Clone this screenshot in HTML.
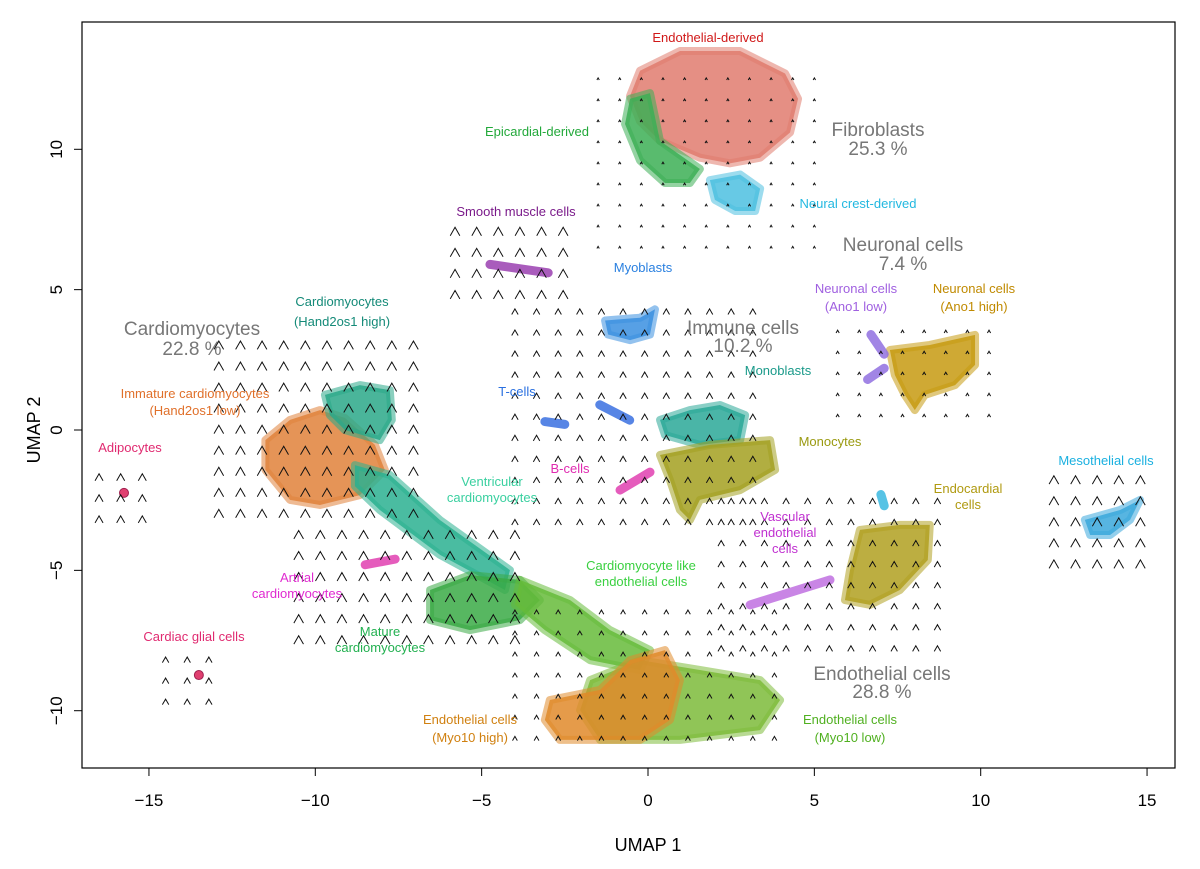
<!DOCTYPE html>
<html><head><meta charset="utf-8"><style>
html,body{margin:0;padding:0;background:#fff;}
svg{display:block;font-family:"Liberation Sans","DejaVu Sans",sans-serif;}
</style></head><body>
<svg id="chart" width="1200" height="869" viewBox="0 0 1200 869" xmlns="http://www.w3.org/2000/svg">
<rect x="82" y="22" width="1093" height="746" fill="none" stroke="#000" stroke-width="1.2"/>
<g id="clusters"></g>
<g id="arrows"></g>
<g id="axes"></g>
<g id="labels"></g>
</svg>
<script>
const xTicks=[-15,-10,-5,0,5,10,15];
const yTicks=[-10,-5,0,5,10];
const clusterNames=["fibroblasts-endothelial-derived","epicardial-derived","neural-crest-derived","myoblasts","monoblasts","monocytes","neuronal-ano1-high","endocardial","mesothelial","immature-cardiomyocytes","cardiomyocytes-hand2os1-high","ventricular-cardiomyocytes","mature-cardiomyocytes","cardiomyocyte-like-endothelial","endothelial-myo10-low","endothelial-myo10-high"];
const clusterColors=["#e07b6e","#3caf55","#4cbfe0","#3a8fe0","#2aa898","#a3a020","#c79a10","#b0a020","#3aa8dc","#e0813a","#2aa888","#2ab090","#3aaa45","#66bb3a","#7dbb3a","#e08a2a"];
const clusterShapes=[
[[-0.24,12.8],[0.96,13.5],[2.77,13.5],[4.12,12.7],[4.51,11.8],[4.27,10.6],[3.37,9.7],[2.46,9.5],[1.56,9.7],[0.36,10.3],[-0.24,11.0],[-0.54,11.9]],
[[-0.54,11.8],[0.06,12.0],[0.36,10.3],[1.56,9.3],[1.26,8.8],[0.51,8.8],[-0.24,9.6],[-0.69,10.9]],
[[1.86,8.9],[2.77,9.1],[3.37,8.6],[3.22,7.8],[2.62,7.8],[2.01,8.2]],
[[-1.29,3.9],[-0.24,4.0],[0.21,4.3],[0.06,3.4],[-0.54,3.2],[-1.2,3.4]],
[[0.36,0.36],[1.26,0.71],[2.16,0.89],[2.92,0.53],[2.77,-0.36],[1.56,-0.53],[0.51,-0.18]],
[[0.36,-0.89],[1.86,-0.53],[3.67,-0.36],[3.82,-1.42],[2.77,-2.14],[1.56,-2.49],[1.26,-3.21],[0.96,-2.85],[0.66,-1.78]],
[[7.27,2.85],[8.47,3.03],[9.83,3.39],[9.83,2.32],[9.23,1.6],[8.32,1.25],[8.02,0.71],[7.72,1.25],[7.42,1.96]],
[[6.37,-3.56],[7.57,-3.38],[8.47,-3.38],[8.41,-4.63],[7.57,-5.7],[6.67,-6.23],[5.92,-6.06],[6.07,-5.0]],
[[13.13,-3.2],[14.19,-2.85],[14.79,-2.49],[14.49,-3.2],[13.89,-3.74],[13.29,-3.74]],
[[-11.5,-0.36],[-10.76,0.36],[-9.86,0.71],[-9.11,0.43],[-8.21,-0.53],[-7.91,-1.42],[-8.66,-2.32],[-9.86,-2.67],[-10.76,-2.49],[-11.5,-1.42]],
[[-9.71,1.25],[-8.66,1.6],[-7.76,1.42],[-7.7,0.36],[-8.06,-0.36],[-9.11,0.0],[-9.56,0.53]],
[[-8.81,-1.25],[-7.76,-1.6],[-6.25,-3.21],[-4.15,-4.99],[-4.3,-5.7],[-6.25,-4.45],[-8.06,-2.85],[-8.81,-2.0]],
[[-6.55,-5.7],[-5.35,-5.17],[-3.85,-5.34],[-3.25,-6.06],[-3.85,-6.77],[-5.35,-7.13],[-6.55,-6.77]],
[[-3.85,-5.34],[-2.34,-6.06],[-1.14,-7.13],[0.06,-7.84],[-0.24,-8.55],[-1.74,-8.2],[-3.1,-7.13],[-4.0,-6.23]],
[[-1.74,-8.91],[-0.24,-8.2],[1.56,-8.55],[3.37,-8.91],[3.97,-9.62],[3.37,-10.69],[0.96,-11.04],[-1.44,-11.04],[-2.04,-9.98]],
[[-2.95,-9.62],[-1.44,-9.26],[-0.54,-8.2],[0.51,-7.84],[0.96,-8.91],[0.66,-10.33],[-0.24,-11.04],[-2.65,-11.04],[-3.1,-10.33]]
];
const lineNames=["smooth-muscle-cells","t-cells-a","t-cells-b","b-cells","vascular-endothelial","artrial-cardiomyocytes","neuronal-ano1-low-a","neuronal-ano1-low-b","endocardial-cyan"];
const lineColors=["#9a40b0","#3a70e0","#3a70e0","#e040b0","#c070e0","#e040b0","#9070e0","#9070e0","#3ab8e0"];
const lineShapes=[
[[-4.75,5.9],[-3.0,5.6]],
[[-3.1,0.3],[-2.5,0.2]],
[[-1.45,0.9],[-0.55,0.35]],
[[-0.84,-2.14],[0.06,-1.5]],
[[3.07,-6.23],[5.47,-5.34]],
[[-8.5,-4.8],[-7.6,-4.6]],
[[6.7,3.4],[7.1,2.7]],
[[6.6,1.8],[7.1,2.2]],
[[7.0,-2.3],[7.1,-2.7]]
];
const dotX=[-15.75,-13.5];
const dotY=[-2.24,-8.73];
// velocity-field regions: [xmin,xmax,ymin,ymax] in UMAP units, last = arrow size (px)
const arrowRegions=[
[-12.9,-7.0,-3.0,3.3,6],[-10.5,-4.0,-7.5,-3.3,6],[-5.8,-2.3,4.8,7.4,6],[-4.0,3.7,-3.3,4.8,4],
[-1.5,5.0,6.5,12.8,1.5],[5.7,10.5,0.5,4.2,2],[2.2,9.0,-7.8,-2.5,4],[12.2,15.0,-4.8,-1.2,6],
[-4.0,4.3,-11.0,-5.8,3],[-16.5,-15.0,-3.2,-1.0,5],[-14.5,-12.7,-9.7,-7.6,4]
];
const NS="http://www.w3.org/2000/svg";
const sx=v=>648+v*33.27, sy=v=>430-v*28.07;
function mk(t,a,p){const e=document.createElementNS(NS,t);for(const k in a)e.setAttribute(k,a[k]);p.appendChild(e);return e;}
const cg=document.getElementById('clusters');
clusterShapes.forEach((s,i)=>{
 const p=mk('polygon',{points:s.map(q=>sx(q[0])+','+sy(q[1])).join(' '),fill:clusterColors[i],'fill-opacity':0.85,stroke:clusterColors[i],'stroke-width':8,'stroke-linejoin':'round','stroke-opacity':0.55},cg);
 
 
});
lineShapes.forEach((s,i)=>{
 const p=mk('polyline',{points:s.map(q=>sx(q[0])+','+sy(q[1])).join(' '),fill:'none',stroke:lineColors[i],'stroke-width':9,'stroke-linecap':'round','stroke-opacity':0.85},cg);
 
 
});
dotX.forEach((v,i)=>{
 const c=mk('circle',{cx:sx(v),cy:sy(dotY[i]),r:4.5,fill:'#e04070',stroke:'#a02050'},cg);
 
 
});
const arg=document.getElementById('arrows');
let d='';
arrowRegions.forEach(r=>{
 const s=r[4];
 for(let x=r[0];x<=r[1]+1e-6;x+=0.65){
  for(let y=r[2];y<=r[3]+1e-6;y+=0.75){
   const px=sx(x),py=sy(y);
   d+=`M${px-s*0.8},${py+s*0.6}L${px},${py-s*0.8}L${px+s*0.8},${py+s*0.6}`;
  }
 }
});
const ap=mk('path',{d:d,fill:'none',stroke:'#111','stroke-width':1},arg);


const ag=document.getElementById('axes');
xTicks.forEach(v=>{
 const l=mk('line',{x1:sx(v),x2:sx(v),y1:768,y2:776,stroke:'#000'},ag);
 
 
 const t=mk('text',{x:sx(v),y:806,'text-anchor':'middle','font-size':17},ag);
 t.textContent=(v<0?'\u2212'+(-v):v);
 
 
});
yTicks.forEach(v=>{
 const l=mk('line',{x1:74,x2:82,y1:sy(v),y2:sy(v),stroke:'#000'},ag);
 
 
 const t=mk('text',{x:62,y:sy(v),'text-anchor':'middle','font-size':17,transform:`rotate(-90 62 ${sy(v)})`},ag);
 t.textContent=(v<0?'\u2212'+(-v):v);
 
 
});
const xt=mk('text',{x:648,y:851,'text-anchor':'middle','font-size':18},ag);xt.textContent='UMAP 1';


const yt=mk('text',{x:40,y:430,'text-anchor':'middle','font-size':18,transform:'rotate(-90 40 430)'},ag);yt.textContent='UMAP 2';


const labels=[
["Endothelial-derived",708,42,"#d01818",13],["Epicardial-derived",537,136,"#22a83a",13],["Fibroblasts",878,136,"#777",19],["25.3 %",878,155,"#777",19],
["Neural crest-derived",858,208,"#22b8e0",13],["Smooth muscle cells",516,216,"#7a1a8a",13],["Neuronal cells",903,251,"#777",19],["7.4 %",903,270,"#777",19],
["Myoblasts",643,272,"#2a80e0",13],["Neuronal cells",856,293,"#a060e0",13],["(Ano1 low)",856,311,"#a060e0",13],["Neuronal cells",974,293,"#c08a00",13],["(Ano1 high)",974,311,"#c08a00",13],
["Cardiomyocytes",342,306,"#148a78",13],["(Hand2os1 high)",342,326,"#148a78",13],["Cardiomyocytes",192,335,"#777",19],["22.8 %",192,355,"#777",19],
["Immune cells",743,334,"#777",19],["10.2 %",743,352,"#777",19],["Monoblasts",778,375,"#1a9a8a",13],["Immature cardiomyocytes",195,398,"#e0702a",13],["(Hand2os1 low)",195,415,"#e0702a",13],
["T-cells",517,396,"#2a70e0",13],["Monocytes",830,446,"#9a9a10",13],["Adipocytes",130,452,"#e02a70",13],["Mesothelial cells",1106,465,"#1ab0e0",13],["B-cells",570,473,"#e02ab0",13],
["Ventricular",492,486,"#3ad0a0",13],["cardiomyocytes",492,502,"#3ad0a0",13],["Endocardial",968,493,"#b09a10",13],["cells",968,509,"#b09a10",13],
["Vascular",785,521,"#c030d0",13],["endothelial",785,537,"#c030d0",13],["cells",785,553,"#c030d0",13],["Cardiomyocyte like",641,570,"#3ad040",13],["endothelial cells",641,586,"#3ad040",13],
["Artrial",297,582,"#e02ad0",13],["cardiomyocytes",297,598,"#e02ad0",13],["Mature",380,636,"#22b050",13],["cardiomyocytes",380,652,"#22b050",13],["Cardiac glial cells",194,641,"#e02a70",13],
["Endothelial cells",882,680,"#777",19],["28.8 %",882,698,"#777",19],["Endothelial cells",470,724,"#d08010",13],["(Myo10 high)",470,742,"#d08010",13],["Endothelial cells",850,724,"#50b020",13],["(Myo10 low)",850,742,"#50b020",13]
];
const lg=document.getElementById('labels');
labels.forEach(d=>{
 const t=mk('text',{x:d[1],y:d[2],'text-anchor':'middle','font-size':d[4],fill:d[3]},lg);
 t.textContent=d[0];
 
 
});
</script>
</body></html>
